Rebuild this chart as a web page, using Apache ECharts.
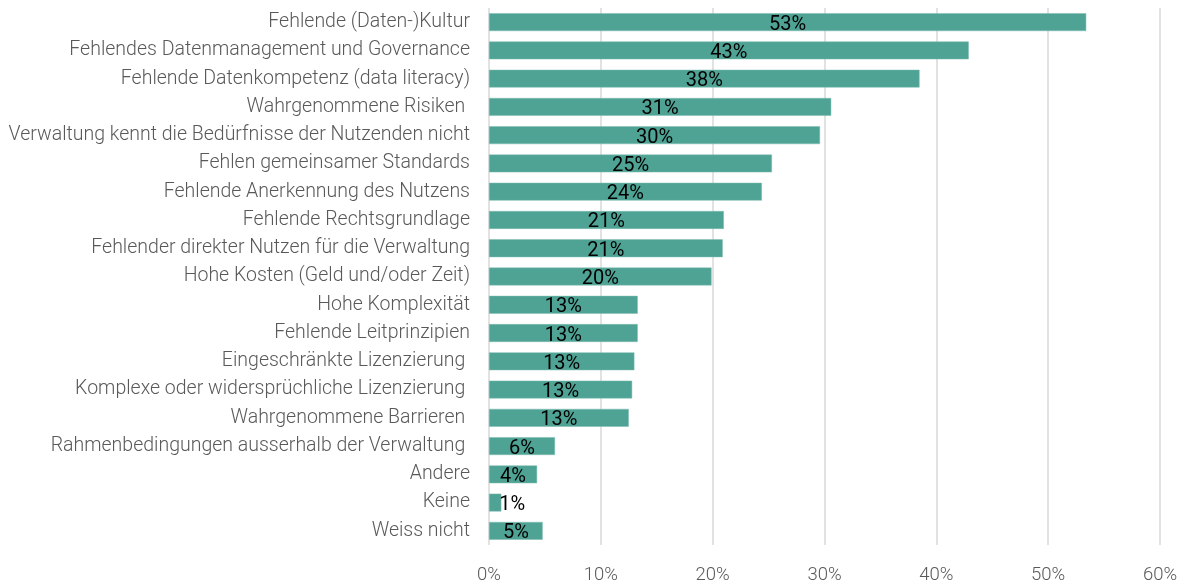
<!DOCTYPE html>
<html>
<head>
<meta charset="utf-8">
<script src="https://cdn.jsdelivr.net/npm/echarts@6/dist/echarts.min.js"></script>
<style>
  html, body { margin: 0; padding: 0; background: #fff; }
  #chart { width: 1186px; height: 585px; }
</style>
</head>
<body>
<div id="chart"></div>
<script>
// Kategorien von oben nach unten
const categories = [
  "Fehlende (Daten-)Kultur",
  "Fehlendes Datenmanagement und Governance",
  "Fehlende Datenkompetenz (data literacy)",
  "Wahrgenommene Risiken ",
  "Verwaltung kennt die Bedürfnisse der Nutzenden nicht",
  "Fehlen gemeinsamer Standards",
  "Fehlende Anerkennung des Nutzens",
  "Fehlende Rechtsgrundlage",
  "Fehlender direkter Nutzen für die Verwaltung",
  "Hohe Kosten (Geld und/oder Zeit)",
  "Hohe Komplexität",
  "Fehlende Leitprinzipien",
  "Eingeschränkte Lizenzierung ",
  "Komplexe oder widersprüchliche Lizenzierung ",
  "Wahrgenommene Barrieren ",
  "Rahmenbedingungen ausserhalb der Verwaltung ",
  "Andere",
  "Keine",
  "Weiss nicht"
];
const values = [53.4, 42.9, 38.5, 30.6, 29.6, 25.3, 24.4, 21.0, 20.9, 19.9, 13.3, 13.3, 13.0, 12.8, 12.5, 5.9, 4.3, 1.1, 4.8];
const labels = ["53%", "43%", "38%", "31%", "30%", "25%", "24%", "21%", "21%", "20%", "13%", "13%", "13%", "13%", "13%", "6%", "4%", "1%", "5%"];
const xTicks = [0, 10, 20, 30, 40, 50, 60];

const chart = echarts.init(document.getElementById("chart"));

// ECharts zeichnet Kategorien von unten nach oben -> umdrehen
const cats = categories.slice().reverse();
const data = values.map((v, i) => {
  const item = { value: v, lbl: labels[i] };
  if (v < 2) item.label = { position: "right", distance: -2 };
  return item;
}).reverse();

chart.setOption({
  animation: false,
  grid: { left: 489, right: 26, top: 8, bottom: 39, containLabel: false },
  xAxis: {
    type: "value",
    min: xTicks[0],
    max: xTicks[xTicks.length - 1],
    interval: 10,
    axisLine: { show: false },
    axisTick: { show: false },
    axisLabel: {
      formatter: "{value}%",
      color: "#595959",
      fontFamily: "Roboto",
      fontWeight: 300,
      fontSize: 18.5,
      margin: 21
    },
    splitLine: { lineStyle: { color: "#d9d9d9", width: 1.5 } }
  },
  yAxis: {
    type: "category",
    data: cats,
    axisLine: { show: false },
    axisTick: { show: false },
    axisLabel: {
      color: "#595959",
      fontFamily: "Roboto",
      fontWeight: 300,
      fontSize: 19.5,
      margin: 19
    }
  },
  series: [{
    type: "bar",
    data: data,
    barCategoryGap: "37%",
    itemStyle: { color: "#4ea394", borderColor: "#7fbdb1", borderWidth: 0.5 },
    label: {
      show: true,
      position: "inside",
      offset: [0, 2.5],
      color: "#000",
      fontFamily: "Roboto",
      fontSize: 20,
      formatter: p => p.data.lbl
    }
  }]
});
</script>
</body>
</html>
